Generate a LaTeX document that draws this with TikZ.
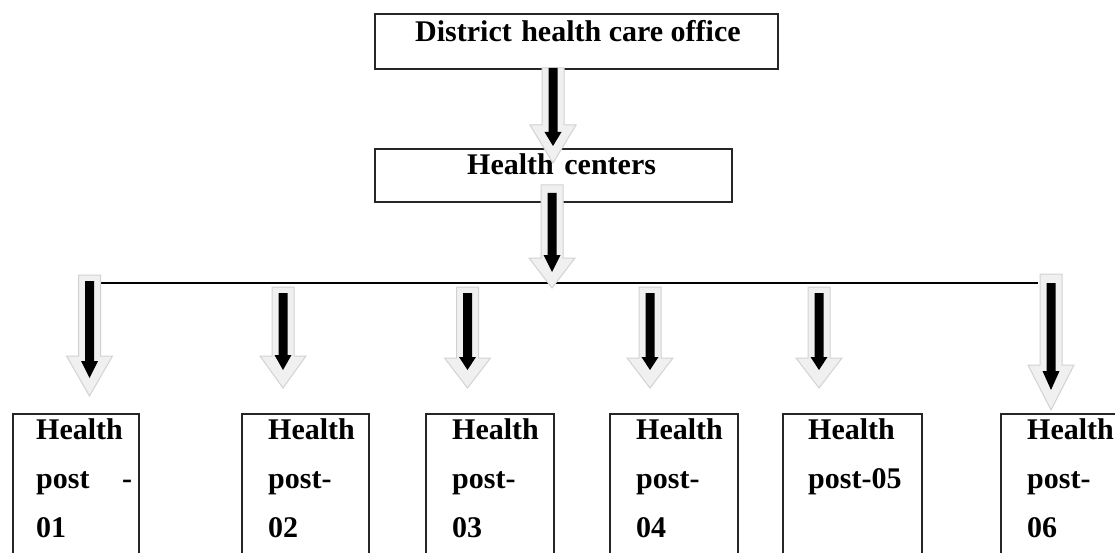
\documentclass[tikz,border=0pt]{standalone}
\usepackage{fontspec}
\setmainfont{Liberation Serif}
\begin{document}
\begin{tikzpicture}[x=1pt,y=-1pt,
  boxstyle/.style={draw=black!85, line width=1.6pt, fill=white, inner sep=0pt},
  lbl/.style={anchor=base west, inner sep=0pt, font=\fontsize{30}{36}\selectfont\bfseries},
  linkline/.style={draw=black, line width=1.3pt},
  grayblock/.style={fill=gray!12, draw=gray!35, line width=1pt, line join=miter},
  blackarr/.style={fill=black, draw=none}]
\useasboundingbox (0,0) rectangle (1115,553);
\clip (0,0) rectangle (1115,553);
% #1 cx, #2 gray top, #3 gray head base, #4 gray tip, #5 black top, #6 black head base, #7 black tip
\newcommand{\hcblockarrow}[7]{%
  \filldraw[grayblock] ({#1-11},#2) -- ({#1+11},#2) -- ({#1+11},#3) -- ({#1+23},#3) -- (#1,#4) -- ({#1-23},#3) -- ({#1-11},#3) -- cycle;
  \fill[blackarr] ({#1-4.5},#5) -- ({#1+4.5},#5) -- ({#1+4.5},#6) -- ({#1+8.5},#6) -- (#1,#7) -- ({#1-8.5},#6) -- ({#1-4.5},#6) -- cycle;
}

% top boxes
\node[boxstyle, minimum width=403pt, minimum height=55pt, anchor=north west] (dho) at (374,13) {};
\node[lbl] (dhotext) at (415,42) {District\hspace{2pt} health care office};
\node[boxstyle, minimum width=357pt, minimum height=53pt, anchor=north west] (hc) at (374,148) {};
\node[lbl] (hctext) at (467,175) {Health\hspace{3pt} centers};

% horizontal distribution line
\coordinate (lineL) at (101,283);
\coordinate (lineR) at (1038,283);
\draw[linkline] (lineL) -- (lineR);

% bottom boxes (cut off by the lower edge)
\node[boxstyle, minimum width=126pt, minimum height=170pt, anchor=north west] (hp1) at (12,413) {};
\node[boxstyle, minimum width=127pt, minimum height=170pt, anchor=north west] (hp2) at (241,413) {};
\node[boxstyle, minimum width=128pt, minimum height=170pt, anchor=north west] (hp3) at (425,413) {};
\node[boxstyle, minimum width=128pt, minimum height=170pt, anchor=north west] (hp4) at (609,413) {};
\node[boxstyle, minimum width=139pt, minimum height=170pt, anchor=north west] (hp5) at (782,413) {};
\node[boxstyle, minimum width=140pt, minimum height=170pt, anchor=north west] (hp6) at (1000,413) {};

% texts in bottom boxes
\node[lbl] (t1a) at (36,439) {Health};
\node[lbl] (t1b) at (36,488) {post};
\node[lbl] (t1c) at (122,488) {-};
\node[lbl] (t1d) at (36,537) {01};

\node[lbl] (t2a) at (268,439) {Health};
\node[lbl] (t2b) at (268,488) {post-};
\node[lbl] (t2c) at (268,537) {02};

\node[lbl] (t3a) at (452,439) {Health};
\node[lbl] (t3b) at (452,488) {post-};
\node[lbl] (t3c) at (452,537) {03};

\node[lbl] (t4a) at (636,439) {Health};
\node[lbl] (t4b) at (636,488) {post-};
\node[lbl] (t4c) at (636,537) {04};

\node[lbl] (t5a) at (808,439) {Health};
\node[lbl] (t5b) at (808,488) {post-05};

\node[lbl] (t6a) at (1027,439) {Health};
\node[lbl] (t6b) at (1027,488) {post-};
\node[lbl] (t6c) at (1027,537) {06};

% block arrows
\hcblockarrow{553}{68}{125}{163}{68}{132}{146}
\hcblockarrow{552}{185}{258}{288}{193}{255}{272}
\hcblockarrow{89.5}{275}{356}{396}{281}{361}{378}
\hcblockarrow{283}{287}{356}{388}{293}{355}{370}
\hcblockarrow{467.5}{287}{358}{388}{293}{357}{370}
\hcblockarrow{650}{287}{358}{388}{293}{357}{370}
\hcblockarrow{819}{287}{358}{388}{293}{357}{370}
\hcblockarrow{1051}{274}{365}{410}{283}{371}{390}
\end{tikzpicture}
\end{document}
